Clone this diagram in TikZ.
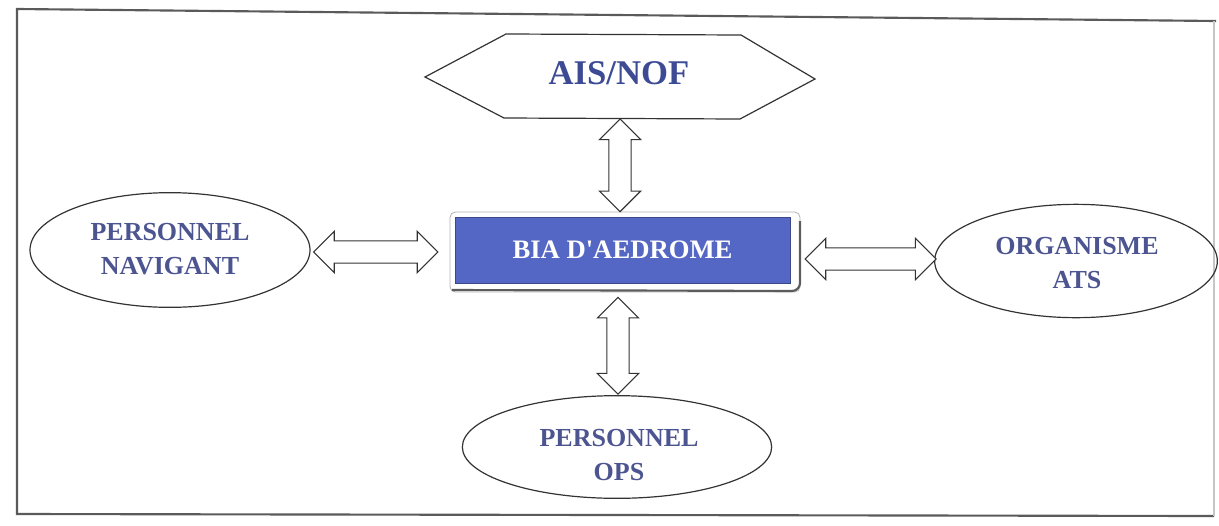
\documentclass[tikz,border=0pt]{standalone}
\usepackage{fontspec}
\setmainfont{Liberation Serif}
\usetikzlibrary{shapes.geometric,calc}

\definecolor{labelblue}{HTML}{4D5591}
\definecolor{titleblue}{HTML}{3D4B95}
\definecolor{boxblue}{HTML}{5567C4}
\definecolor{framegray}{HTML}{5A5A5A}
\definecolor{edgegray}{HTML}{333333}

% dimensions of the hollow double arrows
\def\arrHL{15.5pt}% head length
\def\arrHW{15.5pt}% head half width
\def\arrSW{8.3pt} % shaft half width

\tikzset{
  arrowbody/.style={draw=edgegray, line width=0.8pt, fill=white, line join=miter},
  oval/.style={ellipse, draw=edgegray, line width=0.9pt, inner sep=0pt},
  ovaltext/.style={align=center, inner sep=0pt,
    font=\bfseries\fontsize{19.5pt}{25.5pt}\selectfont, text=labelblue},
}

% horizontal hollow arrow with a head at both ends
\newcommand\dblH[2]{%
  \draw[arrowbody] let \p1=(#1), \p2=(#2) in
    (\x1,\y1) -- (\x1+\arrHL,\y1+\arrHW) -- (\x1+\arrHL,\y1+\arrSW)
    -- (\x2-\arrHL,\y1+\arrSW) -- (\x2-\arrHL,\y1+\arrHW) -- (\x2,\y1)
    -- (\x2-\arrHL,\y1-\arrHW) -- (\x2-\arrHL,\y1-\arrSW)
    -- (\x1+\arrHL,\y1-\arrSW) -- (\x1+\arrHL,\y1-\arrHW) -- cycle;}
% vertical hollow arrow with a head at both ends (#1 above #2)
\newcommand\dblV[2]{%
  \draw[arrowbody] let \p1=(#1), \p2=(#2) in
    (\x1,\y1) -- (\x1+\arrHW,\y1-\arrHL) -- (\x1+\arrSW,\y1-\arrHL)
    -- (\x1+\arrSW,\y2+\arrHL) -- (\x1+\arrHW,\y2+\arrHL) -- (\x1,\y2)
    -- (\x1-\arrHW,\y2+\arrHL) -- (\x1-\arrSW,\y2+\arrHL)
    -- (\x1-\arrSW,\y1-\arrHL) -- (\x1-\arrHW,\y1-\arrHL) -- cycle;}

\begin{document}
\begin{tikzpicture}[x=0.75pt, y=-0.75pt]
\useasboundingbox (0,0) rectangle (1219,525);

% outer frame
\draw[framegray, line width=1.6pt, line join=miter] (1214,516) -- (17,514) -- (17,9) -- (1216,21);
\draw[gray!45, line width=1pt] (1214,21) -- (1214,516);

% AIS/NOF hexagon
\draw[edgegray, line width=0.9pt, line join=miter]
  (425,77) -- (506,34) -- (741,35) -- (815,79) -- (740,119) -- (504,118) -- cycle;
\node[font=\bfseries\fontsize{26pt}{30pt}\selectfont, text=titleblue] (ais) at (619,73) {AIS/NOF};
\coordinate (aisS) at (620,119);

% central box with its raised border
\draw[gray!60, line width=0.6pt, rounded corners=4pt] (450,212) rectangle (800,292);
\draw[edgegray!80, line width=1.6pt, rounded corners=6pt] (800,221) -- (800,291) -- (452,290);
\node[rectangle, fill=boxblue, draw=boxblue!70!black, line width=0.4pt,
      minimum width=251pt, minimum height=49.5pt, inner sep=0pt,
      font=\bfseries\fontsize{20pt}{24pt}\selectfont, text=white] (bia) at (622.5,250)
      {BIA D\textquotesingle AEDROME};

% surrounding ovals and their labels
\node[oval, minimum width=210pt, minimum height=86pt] (nav) at (170,250) {};
\node[ovaltext] (navT) at (170,249) {PERSONNEL\\NAVIGANT};
\node[oval, minimum width=212pt, minimum height=85pt] (ats) at (1076,261) {};
\node[ovaltext] (atsT) at (1077,263) {ORGANISME\\ATS};
\node[oval, minimum width=232pt, minimum height=77pt] (ops) at (617,447) {};
\node[ovaltext] (opsT) at (619,455) {PERSONNEL\\OPS};

% arrow end points
\coordinate (topA) at ($(aisS)+(0,0)$);
\coordinate (topB) at ($(bia.north)+(-2.5,-5)$);
\coordinate (botA) at ($(bia.south)+(-4.5,14)$);
\coordinate (botB) at ($(ops.north)+(0,-1)$);
\coordinate (leftA) at ($(nav.east)+(3,2)$);
\coordinate (leftB) at ($(bia.west)+(-17,2)$);
\coordinate (rightA) at ($(bia.east)+(15,9)$);
\coordinate (rightB) at ($(ats.west)+(2,-2)$);

\dblV{topA}{topB}
\dblV{botA}{botB}
\dblH{leftA}{leftB}
\dblH{rightA}{rightB}
\end{tikzpicture}
\end{document}
